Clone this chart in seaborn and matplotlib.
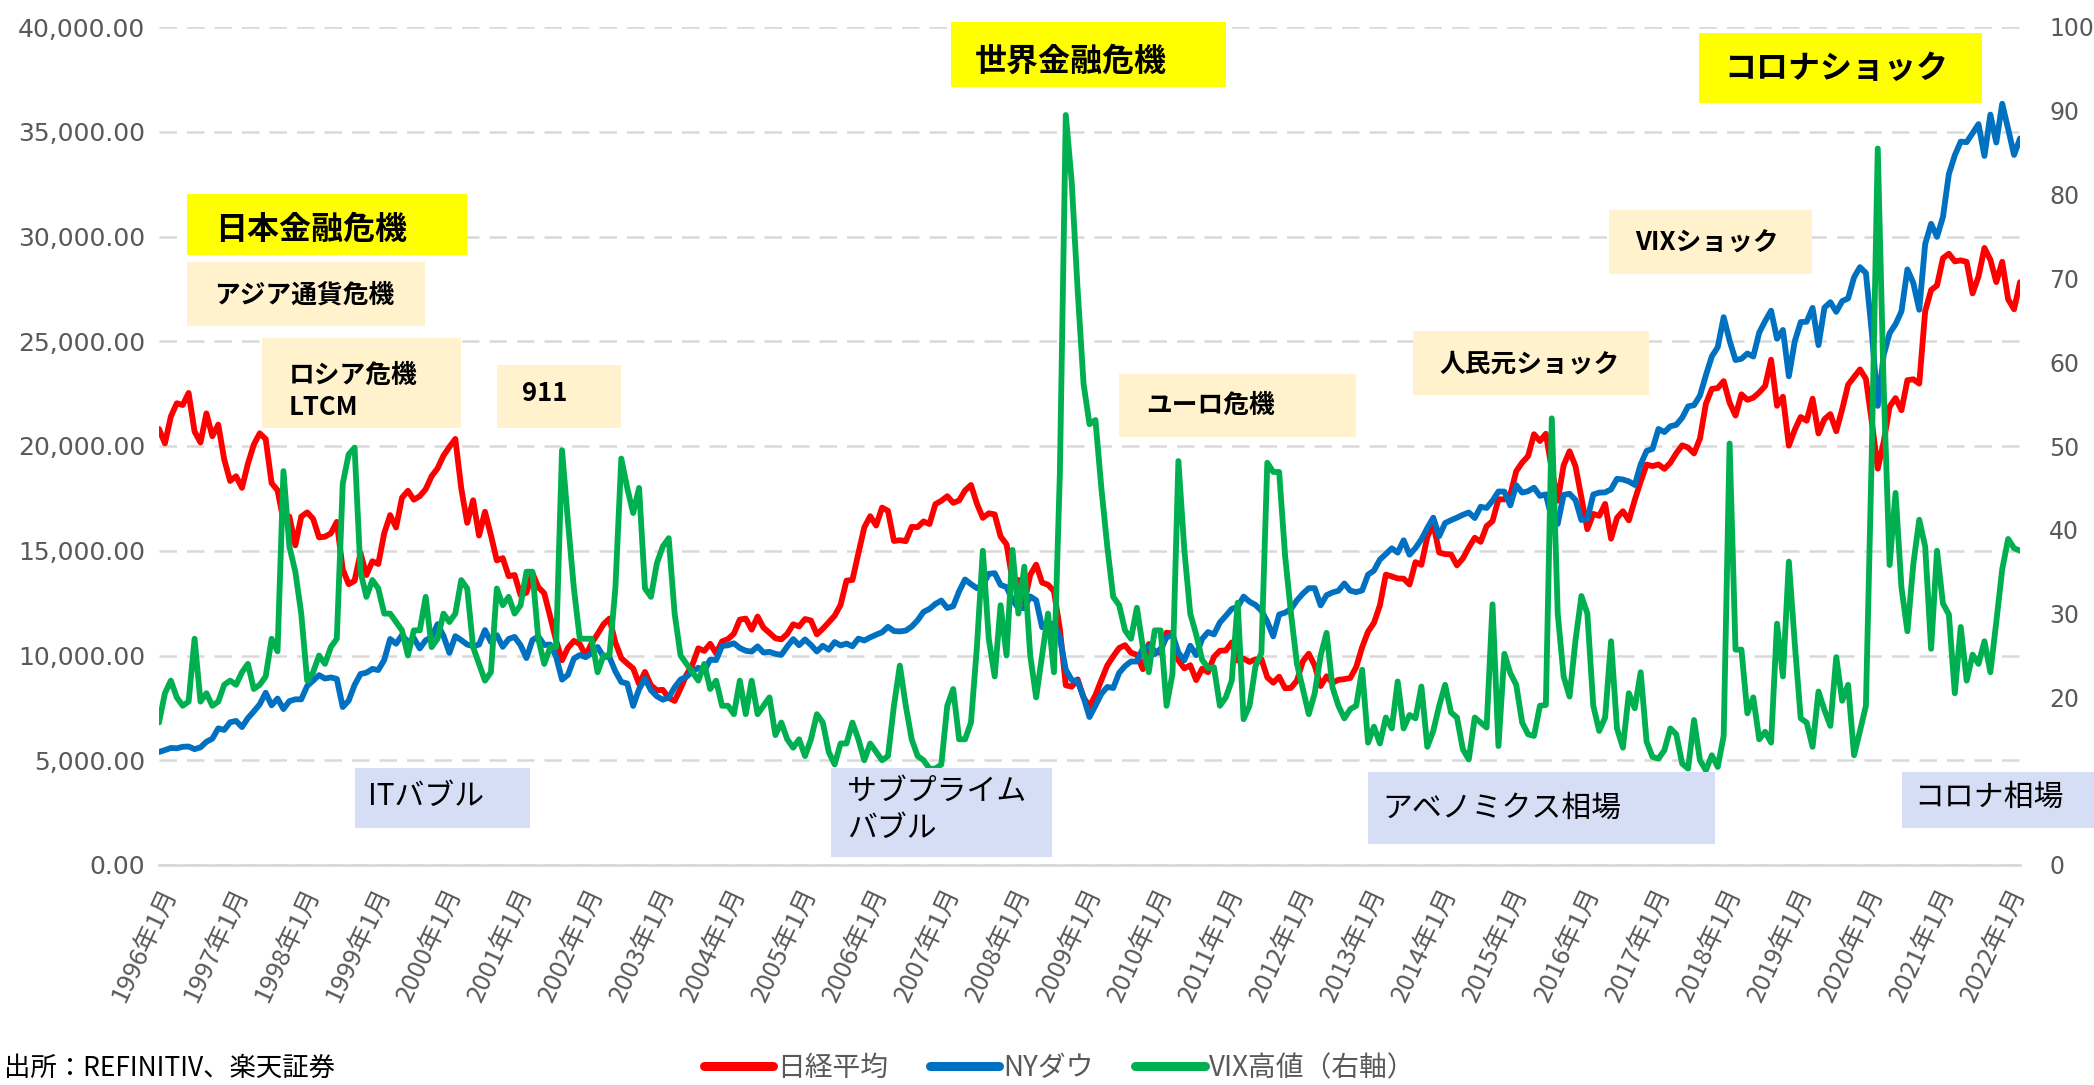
import matplotlib
matplotlib.use("Agg")
import matplotlib.pyplot as plt
import seaborn as sns
import pandas as pd
from matplotlib.patches import Rectangle
from matplotlib.lines import Line2D

# ---------------- data ----------------
months = [f"{y}年{m}月" for y in range(1996, 2023) for m in range(1, 13)][:315]

nikkei = [
    20813, 20125, 21407, 22041, 21956, 22531, 20693, 20167, 21556, 20467, 21020, 19361,
    18330, 18557, 18003, 19151, 20069, 20605, 20331, 18229, 17888, 16459, 16636, 15259,
    16628, 16832, 16527, 15641, 15671, 15831, 16379, 14108, 13406, 13565, 14884, 13842,
    14499, 14368, 15837, 16702, 16112, 17530, 17862, 17437, 17605, 17942, 18558, 18934,
    19540, 19960, 20337, 17974, 16332, 17411, 15727, 16861, 15747, 14539, 14649, 13786,
    13843, 12884, 12999, 13934, 13262, 12969, 11861, 10713, 9775, 10367, 10697, 10543,
    9998, 10588, 11025, 11493, 11764, 10622, 9877, 9619, 9383, 8640, 9216, 8579,
    8340, 8363, 7973, 7831, 8425, 9083, 9563, 10344, 10219, 10560, 10101, 10677,
    10784, 11042, 11715, 11762, 11236, 11859, 11326, 11082, 10824, 10771, 11031, 11489,
    11388, 11741, 11669, 11009, 11277, 11584, 11900, 12414, 13574, 13607, 14872, 16111,
    16650, 16205, 17060, 16906, 15467, 15505, 15457, 16141, 16128, 16399, 16274, 17226,
    17383, 17604, 17288, 17400, 17876, 18138, 17249, 16569, 16786, 16737, 15681, 15308,
    13592, 13603, 12526, 13850, 14339, 13481, 13377, 13073, 11260, 8577, 8512, 8860,
    7994, 7568, 8110, 8828, 9523, 9958, 10357, 10493, 10133, 10035, 9346, 10546,
    10198, 10126, 11090, 11057, 9769, 9383, 9537, 8824, 9369, 9202, 9937, 10229,
    10238, 10624, 9755, 9850, 9694, 9816, 9833, 8955, 8700, 8988, 8435, 8455,
    8803, 9723, 10084, 9521, 8543, 9007, 8695, 8840, 8870, 8928, 9446, 10395,
    11139, 11559, 12398, 13861, 13775, 13677, 13668, 13389, 14456, 14328, 15662, 16291,
    14914, 14841, 14828, 14304, 14632, 15162, 15621, 15425, 16174, 16414, 17460, 17451,
    17674, 18798, 19207, 19520, 20563, 20236, 20585, 18890, 17388, 19083, 19747, 19034,
    17518, 16027, 16759, 16666, 17235, 15576, 16569, 16887, 16450, 17425, 18308, 19114,
    19041, 19119, 18909, 19197, 19651, 20033, 19925, 19646, 20356, 22012, 22725, 22765,
    23098, 22068, 21454, 22468, 22202, 22305, 22554, 22865, 24120, 21920, 22351, 20015,
    20773, 21385, 21206, 22259, 20601, 21276, 21522, 20704, 21756, 22927, 23294, 23657,
    23205, 21143, 18917, 20194, 21878, 22288, 21710, 23140, 23185, 22977, 26434, 27444,
    27663, 28966, 29179, 28813, 28860, 28792, 27284, 28090, 29453, 28893, 27822, 28792,
    27002, 26527, 27821,
]

dow = [
    5395, 5485, 5587, 5569, 5643, 5655, 5529, 5616, 5882, 6029, 6522, 6448,
    6813, 6878, 6584, 7009, 7331, 7673, 8223, 7622, 7945, 7442, 7823, 7908,
    7907, 8546, 8800, 9063, 8900, 8952, 8883, 7539, 7843, 8592, 9117, 9181,
    9359, 9307, 9786, 10789, 10560, 10971, 10655, 10829, 10337, 10729, 10878, 11497,
    10941, 10128, 10922, 10734, 10522, 10448, 10522, 11215, 10651, 10971, 10415, 10788,
    10887, 10495, 9879, 10735, 10912, 10502, 10523, 9950, 8848, 9075, 9852, 10022,
    9920, 10106, 10404, 9946, 9925, 9243, 8737, 8664, 7592, 8397, 8896, 8342,
    8054, 7891, 7992, 8480, 8850, 8985, 9234, 9416, 9275, 9801, 9782, 10454,
    10488, 10584, 10358, 10226, 10188, 10435, 10140, 10174, 10080, 10027, 10428, 10783,
    10490, 10766, 10504, 10193, 10467, 10275, 10641, 10482, 10569, 10440, 10806, 10718,
    10865, 10993, 11109, 11367, 11168, 11150, 11186, 11381, 11679, 12081, 12222, 12463,
    12622, 12269, 12354, 13063, 13628, 13409, 13212, 13358, 13896, 13930, 13372, 13265,
    12650, 12266, 12263, 12820, 12638, 11350, 11378, 11544, 10851, 9325, 8829, 8776,
    8001, 7063, 7609, 8168, 8500, 8447, 9172, 9496, 9712, 9713, 10345, 10428,
    10067, 10325, 10857, 11009, 10137, 9774, 10466, 10015, 10788, 11118, 11006, 11578,
    11892, 12226, 12320, 12811, 12570, 12414, 12143, 11614, 10913, 11955, 12046, 12218,
    12633, 12952, 13212, 13214, 12393, 12880, 13009, 13091, 13437, 13096, 13026, 13104,
    13861, 14054, 14579, 14840, 15116, 14910, 15500, 14810, 15130, 15546, 16086, 16577,
    15699, 16322, 16458, 16581, 16717, 16827, 16563, 17098, 17043, 17391, 17828, 17823,
    17165, 18133, 17776, 17841, 18011, 17620, 17690, 16528, 16285, 17664, 17720, 17425,
    16466, 16517, 17685, 17774, 17787, 17930, 18432, 18401, 18308, 18142, 19124, 19763,
    19864, 20812, 20663, 20941, 21009, 21350, 21891, 21948, 22405, 23377, 24272, 24719,
    26149, 25029, 24103, 24163, 24416, 24271, 25415, 25965, 26458, 25116, 25538, 23327,
    24999, 25916, 25929, 26593, 24815, 26600, 26864, 26403, 26917, 27046, 28051, 28538,
    28256, 25409, 21917, 24346, 25383, 25813, 26428, 28430, 27782, 26502, 29639, 30606,
    29983, 30932, 32982, 33875, 34529, 34503, 34935, 35361, 33844, 35820, 34484, 36338,
    35132, 33893, 34678,
]

vix_high = [
    17.0, 20.5, 22.0, 20.0, 19.0, 19.5, 27.0, 19.5, 20.5, 19.0, 19.5, 21.5,
    22.0, 21.5, 23.0, 24.0, 21.0, 21.5, 22.5, 27.0, 25.5, 47.0, 38.0, 35.0,
    30.0, 22.0, 23.0, 25.0, 24.0, 26.0, 27.0, 45.5, 49.0, 49.8, 35.0, 32.0,
    34.0, 33.0, 30.0, 30.0, 29.0, 28.0, 25.0, 28.0, 28.0, 32.0, 26.0, 27.0,
    30.0, 29.0, 30.0, 34.0, 33.0, 26.0, 24.0, 22.0, 23.0, 33.0, 31.0, 32.0,
    30.0, 31.0, 35.0, 35.0, 27.0, 24.0, 26.0, 26.0, 49.5, 41.0, 33.0, 27.0,
    27.0, 27.0, 23.0, 25.0, 25.0, 33.0, 48.5, 45.0, 42.0, 45.0, 33.0, 32.0,
    36.0, 38.0, 39.0, 30.0, 25.0, 24.0, 23.0, 22.0, 24.0, 21.0, 22.0, 19.0,
    19.0, 18.0, 22.0, 18.0, 22.0, 18.0, 19.0, 20.0, 15.5, 17.0, 15.0, 14.0,
    15.0, 13.0, 15.0, 18.0, 17.0, 13.5, 12.0, 14.5, 14.5, 17.0, 15.0, 12.5,
    14.5, 13.5, 12.5, 13.0, 19.0, 23.8, 19.0, 15.0, 13.0, 12.5, 11.5, 11.5,
    12.0, 19.0, 21.0, 15.0, 15.0, 17.0, 26.0, 37.5, 27.0, 22.5, 31.0, 25.0,
    37.6, 30.0, 35.6, 25.0, 20.0, 25.0, 30.0, 23.0, 46.7, 89.5, 81.5, 68.6,
    57.4, 52.6, 53.1, 45.0, 38.0, 32.0, 31.0, 28.0, 27.0, 30.7, 26.0, 23.0,
    28.0, 28.0, 19.0, 22.8, 48.2, 37.6, 30.0, 27.5, 24.5, 23.5, 23.6, 19.0,
    20.0, 22.0, 31.3, 17.4, 19.0, 23.7, 25.3, 48.0, 46.9, 46.9, 36.9, 30.0,
    24.0, 21.0, 18.0, 20.5, 25.0, 27.7, 21.2, 19.0, 17.5, 18.6, 19.0, 23.3,
    14.6, 16.5, 14.5, 17.6, 16.3, 21.9, 16.3, 17.9, 17.5, 21.3, 14.1, 16.0,
    19.0, 21.5, 18.2, 17.6, 13.8, 12.6, 17.6, 17.0, 16.4, 31.1, 14.2, 25.2,
    22.9, 21.5, 17.0, 15.6, 15.4, 19.0, 19.1, 53.3, 30.0, 22.5, 20.1, 26.8,
    32.1, 30.0, 19.0, 16.0, 17.6, 26.7, 16.3, 14.0, 20.5, 18.7, 23.0, 14.7,
    12.9, 12.7, 13.7, 16.3, 15.6, 12.1, 11.5, 17.3, 12.5, 11.3, 13.1, 11.7,
    15.4, 50.3, 25.7, 25.7, 18.1, 20.0, 15.0, 15.9, 14.6, 28.8, 22.5, 36.2,
    26.4, 17.5, 17.0, 14.1, 20.7, 18.5, 16.6, 24.8, 19.6, 21.5, 13.1, 16.0,
    19.0, 49.5, 85.5, 57.0, 35.8, 44.4, 33.1, 27.9, 35.9, 41.2, 38.0, 25.8,
    37.5, 31.2, 29.9, 20.5, 28.4, 22.0, 25.1, 24.0, 26.7, 23.0, 29.0, 35.3,
    38.9, 37.8, 37.5,
]

series_names = ["日経平均", "NYダウ", "VIX高値（右軸）"]
series_colors = ["#FF0000", "#0070C0", "#00B050"]

left_ticks = [0, 5000, 10000, 15000, 20000, 25000, 30000, 35000, 40000]
right_ticks = [0, 10, 20, 30, 40, 50, 60, 70, 80, 90, 100]
# the "10" label sits behind the コロナ相場 box in the reference
right_labels = ["0", "", "20", "30", "40", "50", "60", "70", "80", "90", "100"]

# annotations: (text, box colour, bold, fontsize, box px (x0,y0,x1,y1), text px (x, y))
events = [
    ("日本金融危機", "#FFFF00", True, 23, (187, 194, 467, 255), (215, 230)),
    ("アジア通貨危機", "#FFF2CC", True, 18.5, (187, 262, 425, 326), (214, 295)),
    ("ロシア危機\nLTCM", "#FFF2CC", True, 18.5, (262, 338, 461, 428), (289, 391)),
    ("911", "#FFF2CC", True, 18.5, (497, 365, 621, 428), (522, 393)),
    ("世界金融危機", "#FFFF00", True, 23, (951, 22, 1226, 87), (975, 62)),
    ("コロナショック", "#FFFF00", True, 23, (1699, 33, 1982, 103), (1724, 69)),
    ("VIXショック", "#FFF2CC", True, 18.5, (1609, 210, 1812, 274), (1635, 243)),
    ("人民元ショック", "#FFF2CC", True, 18.5, (1413, 331, 1649, 395), (1439, 364)),
    ("ユーロ危機", "#FFF2CC", True, 18.5, (1119, 374, 1356, 437), (1146, 405)),
    ("ITバブル", "#D5DEF5", False, 21.5, (355, 768, 530, 828), (368, 796)),
    ("サブプライム\nバブル", "#D5DEF5", False, 21.5, (831, 768, 1052, 857), (847, 810)),
    ("アベノミクス相場", "#D5DEF5", False, 21.5, (1368, 772, 1715, 844), (1382, 808)),
    ("コロナ相場", "#D5DEF5", False, 21.5, (1902, 772, 2094, 828), (1914, 797)),
]

# ---------------- plot ----------------
sns.set_theme(style="white")
plt.rcParams["font.family"] = ["DejaVu Sans", "Noto Sans CJK JP"]
JP = ["Noto Sans CJK JP", "DejaVu Sans"]

W, H = 2094, 1085
fig = plt.figure(figsize=(W / 100, H / 100), dpi=100)
ax = fig.add_axes([159 / W, 1 - 865 / H, (2020 - 159) / W, (865 - 27) / H])
ax2 = ax.twinx()

df = pd.DataFrame({"idx": range(len(months)), "month": months,
                   "nikkei": nikkei, "dow": dow, "vix": vix_high})

sns.lineplot(data=df, x="idx", y="nikkei", ax=ax, color=series_colors[0], lw=4.2,
             solid_joinstyle="round", solid_capstyle="round", zorder=3)
sns.lineplot(data=df, x="idx", y="dow", ax=ax, color=series_colors[1], lw=4.2,
             solid_joinstyle="round", solid_capstyle="round", zorder=4)
sns.lineplot(data=df, x="idx", y="vix", ax=ax2, color=series_colors[2], lw=4.2,
             solid_joinstyle="round", solid_capstyle="round", zorder=3)

ax.set_xlim(0, len(months) - 1)
ax.set_ylim(0, 40000)
ax2.set_ylim(0, 100)
ax.set_yticks(left_ticks)
ax.set_yticklabels([f"{v:,.2f}" for v in left_ticks])
ax2.set_yticks(right_ticks)
ax2.set_yticklabels(right_labels)

xt = list(range(0, len(months), 12))
ax.set_xticks(xt)
ax.set_xticklabels([months[i] for i in xt], rotation=65, ha="right", va="top",
                   rotation_mode="anchor", family=JP, fontsize=18.5, color="#595959")

ax.set_xlabel("")
ax.set_ylabel("")
ax2.set_ylabel("")

for a in (ax, ax2):
    for s in a.spines.values():
        s.set_visible(False)
ax.spines["bottom"].set_visible(True)
ax.spines["bottom"].set_color("#D9D9D9")
ax.spines["bottom"].set_linewidth(2)

ax.tick_params(axis="x", length=9, width=1.6, color="#D9D9D9", direction="out", pad=4)
ax.tick_params(axis="y", length=0, labelsize=18, labelcolor="#595959", pad=10)
ax2.tick_params(axis="y", length=0, labelsize=17, labelcolor="#595959", pad=21)
for lab in ax2.get_yticklabels():
    lab.set_horizontalalignment("left")

ax.set_axisbelow(True)
ax.yaxis.grid(True, color="#D9D9D9", lw=1.8, linestyle=(0, (7, 4)))
ax.xaxis.grid(False)
ax2.grid(False)
ax2.patch.set_visible(False)

# annotation boxes
for text, col, bold, fs, (x0, y0, x1, y1), (tx, ty) in events:
    fig.add_artist(Rectangle((x0 / W, 1 - y1 / H), (x1 - x0) / W, (y1 - y0) / H,
                             transform=fig.transFigure, facecolor=col,
                             edgecolor="none", zorder=5))
    fig.text(tx / W, 1 - ty / H, text, ha="left", va="center", fontsize=fs,
             fontweight="bold" if bold else "normal", color="black",
             family=JP, zorder=6, linespacing=1.25)

# legend
handles = [Line2D([], [], color=c, lw=6.5, solid_capstyle="round") for c in series_colors]
leg = fig.legend(handles, series_names, loc="center", bbox_to_anchor=(0.506, 1 - 1068 / H),
                 ncol=3, frameon=False, handlelength=2.5,
                 handletextpad=0.15, columnspacing=1.5, prop={"family": JP, "size": 20})
for t in leg.get_texts():
    t.set_color("#595959")

# source (kept fully inside the figure)
fig.text(0.002, 1 - 1082 / H, "出所：REFINITIV、楽天証券", ha="left", va="bottom",
         fontsize=19, color="black", family=JP)

fig.savefig("out.png", dpi=100)
